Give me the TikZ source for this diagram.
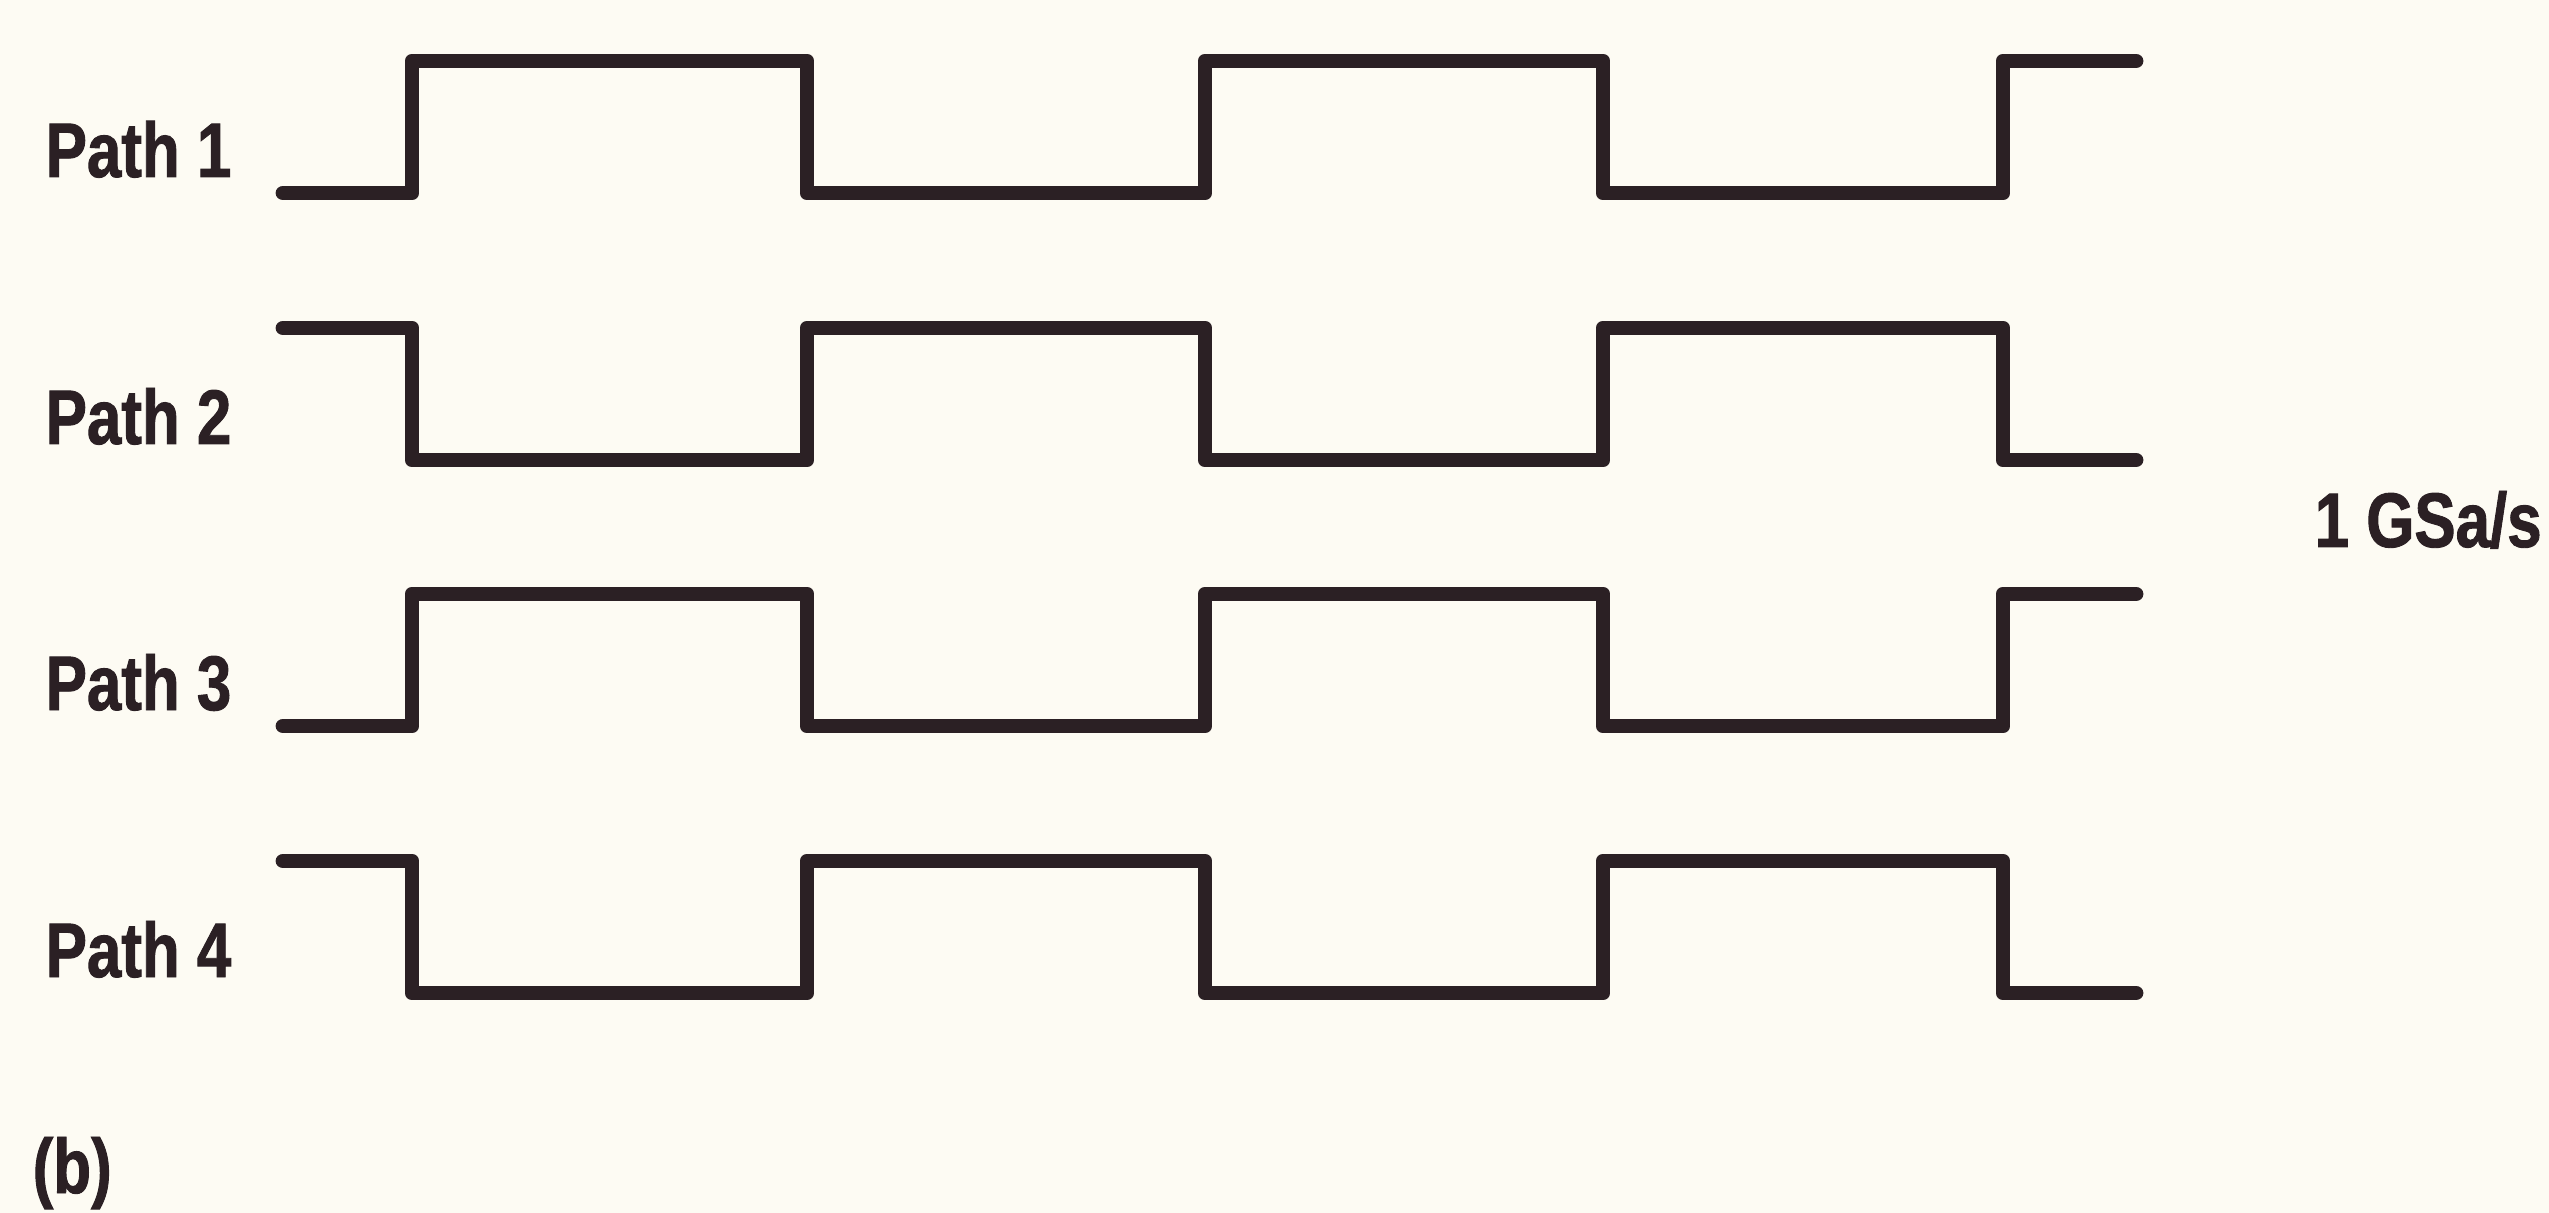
\documentclass[tikz,border=0pt]{standalone}
\usepackage{fontspec}
\usetikzlibrary{positioning}
\newfontfamily\labelfont[FakeStretch=0.8,FakeBold=1.2]{Liberation Sans}
\definecolor{paper}{HTML}{FDFBF3}
\definecolor{ink}{HTML}{2B2024}

\begin{document}
\begin{tikzpicture}[x=1cm,y=-1cm,
  wave/.style={draw=ink,line width=4.2pt,line cap=round,line join=round},
  pathlabel/.style={anchor=base west,inner sep=0pt,text=ink,font=\labelfont\bfseries\fontsize{22}{26}\selectfont}]
\useasboundingbox (0,0) rectangle (25.49,12.13);
\path[fill=paper] (0,0) rectangle (25.49,12.13);
\foreach \k/\a/\b/\base in {1/1.93/0.61/1.77,2/3.28/4.60/4.44,3/7.26/5.94/7.10,4/8.61/9.93/9.77}{
  \node[pathlabel] (path\k) at (0.45,\base) {Path \k};
  \draw[wave] (2.83,\a)--(4.12,\a)--(4.12,\b)--(8.07,\b)--(8.07,\a)--(12.05,\a)--(12.05,\b)--(16.03,\b)--(16.03,\a)--(20.03,\a)--(20.03,\b)--(21.36,\b);
}
\node[pathlabel] (rate) at (23.14,5.47) {1 GSa/s};
\node[pathlabel] (caption) at (0.32,11.93) {(b)};
\end{tikzpicture}
\end{document}
